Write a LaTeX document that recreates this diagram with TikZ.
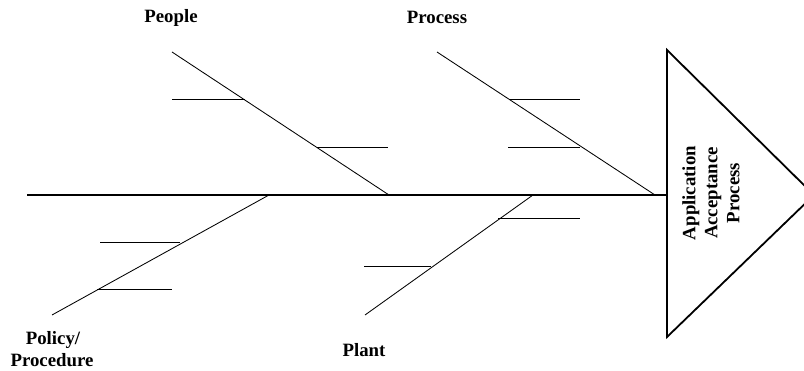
\documentclass[tikz,border=0pt]{standalone}
\usepackage{fontspec}
\setmainfont{Liberation Serif}
\begin{document}
\begin{tikzpicture}[x=1pt,y=-1pt,
  bone/.style={draw=black,line width=0.85pt},
  spine/.style={draw=black,line width=1.05pt},
  headline/.style={draw=black,line width=1.8pt,line join=miter},
  lbl/.style={font=\fontsize{18.8}{22}\selectfont\bfseries,inner sep=0pt,align=center}]
\useasboundingbox (0,0) rectangle (804,371);
\clip (0,0) rectangle (804,371);
% head triangle
\coordinate (tA) at (667,50);
\coordinate (tB) at (667,337);
\coordinate (tC) at (814,195);
\draw[headline] (tA) -- (tC) -- (tB) -- cycle;
\node[lbl,rotate=90] (head) at (711,193) {Application\\Acceptance\\Process};
% spine
\coordinate (s0) at (27,195);
\draw[spine] (s0) -- (tA |- s0);
% People bone
\coordinate (pe0) at (172,52);
\coordinate (pe1) at (389,195);
\draw[bone] (pe0) -- (pe1);
\coordinate (pe2) at (172,99);  \coordinate (pe3) at (245,99);
\coordinate (pe4) at (317,147); \coordinate (pe5) at (388,147);
\draw[bone] (pe2) -- (pe3);
\draw[bone] (pe4) -- (pe5);
% Process bone
\coordinate (pr0) at (437,52);
\coordinate (pr1) at (655,195);
\draw[bone] (pr0) -- (pr1);
\coordinate (pr2) at (510,99);  \coordinate (pr3) at (580,99);
\coordinate (pr4) at (508,147); \coordinate (pr5) at (580,147);
\draw[bone] (pr2) -- (pr3);
\draw[bone] (pr4) -- (pr5);
% Policy bone
\coordinate (po0) at (269,195);
\coordinate (po1) at (52,315);
\draw[bone] (po0) -- (po1);
\coordinate (po2) at (100,242); \coordinate (po3) at (180,242);
\coordinate (po4) at (97,289);  \coordinate (po5) at (172,289);
\draw[bone] (po2) -- (po3);
\draw[bone] (po4) -- (po5);
% Plant bone
\coordinate (pl0) at (533,195);
\coordinate (pl1) at (365,315);
\draw[bone] (pl0) -- (pl1);
\coordinate (pl2) at (364,266); \coordinate (pl3) at (431,266);
\coordinate (pl4) at (498,218); \coordinate (pl5) at (580,218);
\draw[bone] (pl2) -- (pl3);
\draw[bone] (pl4) -- (pl5);
% labels
\node[lbl,anchor=base] (people) at (171,23) {People};
\node[lbl,anchor=base] (process) at (437,24) {Process};
\node[lbl,anchor=base] (policy) at (53,345) {Policy/};
\node[lbl,anchor=base] (procedure) at (52,367) {Procedure};
\node[lbl,anchor=base] (plant) at (364,357) {Plant};
\end{tikzpicture}
\end{document}
